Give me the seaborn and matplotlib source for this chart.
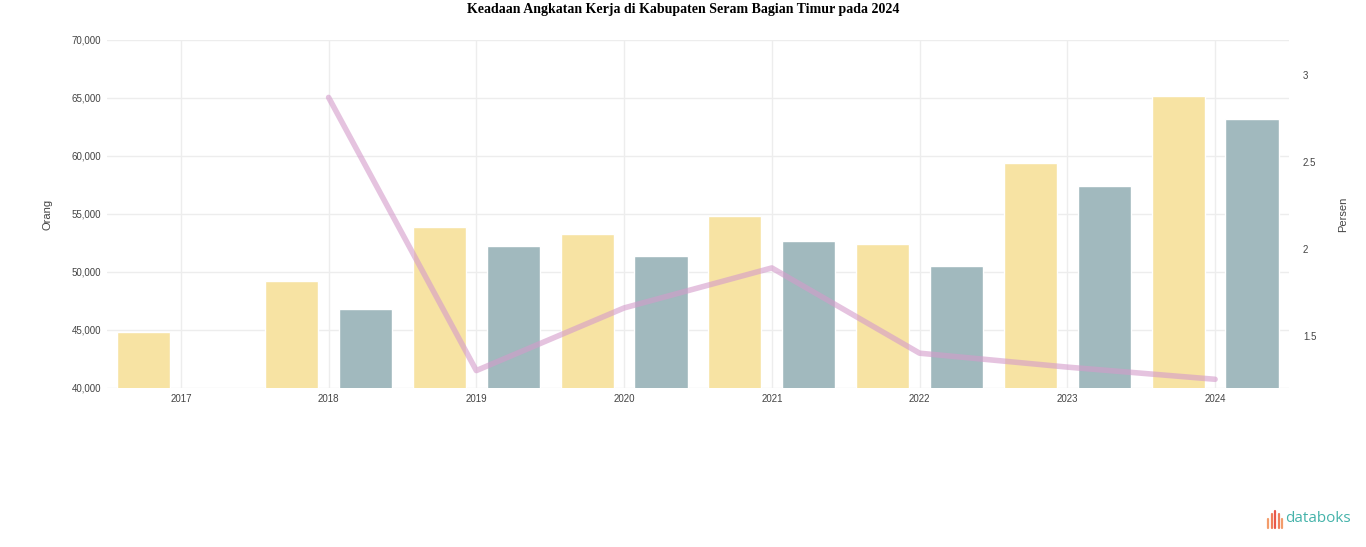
import numpy as np
import pandas as pd
import matplotlib
matplotlib.use("Agg")
import matplotlib.pyplot as plt
import seaborn as sns

# DATA
years = ["2017", "2018", "2019", "2020", "2021", "2022", "2023", "2024"]
angkatan_kerja = [44800, 49200, 53900, 53300, 54800, 52400, 59400, 65200]
bekerja = [np.nan, 46800, 52200, 51400, 52700, 50500, 57400, 63200]
tpt_years = ["2018", "2019", "2020", "2021", "2022", "2023", "2024"]
tpt = [2.87, 1.30, 1.66, 1.89, 1.40, 1.32, 1.25]

left_ticks = [40000, 45000, 50000, 55000, 60000, 65000, 70000]
right_ticks = [1.5, 2.0, 2.5, 3.0]

# STYLE
sns.set_theme(style="whitegrid")
plt.rcParams.update({
    "font.family": ["Liberation Sans", "DejaVu Sans"],
    "axes.spines.top": False,
    "axes.spines.right": False,
    "axes.spines.left": False,
    "axes.spines.bottom": False,
})

YELLOW = "#f7e3a3"
TEAL = "#a1b9be"
LINE = "#d49bcb"
GRID = "#ededed"
TICK = "#444444"

df = pd.DataFrame({
    "tahun": years * 2,
    "nilai": angkatan_kerja + bekerja,
    "seri": ["Angkatan Kerja"] * len(years) + ["Bekerja"] * len(years),
})

line_df = pd.DataFrame({
    "pos": [years.index(y) for y in tpt_years],
    "tpt": tpt,
})

fig = plt.figure(figsize=(13.66, 5.47), dpi=100)
ax = fig.add_axes([0.0783, 0.2907, 0.8653, 0.6362])

sns.barplot(data=df, x="tahun", y="nilai", hue="seri",
            palette=[YELLOW, TEAL], saturation=1, width=1.0, gap=0.28,
            order=years, legend=False, ax=ax, zorder=2)

ax.set_xlim(-0.5, len(years) - 0.5)
ax.set_ylim(left_ticks[0], left_ticks[-1])
ax.set_yticks(left_ticks)
ax.set_yticklabels([f"{v:,}" for v in left_ticks])
ax.grid(True, color=GRID, linewidth=1)
ax.tick_params(axis="both", length=0, labelsize=7, labelcolor=TICK, pad=4)
ax.set_xlabel("")
ax.set_ylabel("Orang", fontsize=8, color=TICK, labelpad=14)

ax2 = ax.twinx()
sns.lineplot(data=line_df, x="pos", y="tpt", color=LINE, linewidth=4,
             alpha=0.6, ax=ax2, zorder=3)
ax2.set_ylim(1.2, 3.2)
ax2.set_yticks(right_ticks)
ax2.set_yticklabels([f"{v:g}" for v in right_ticks])
ax2.grid(False)
for s in ax2.spines.values():
    s.set_visible(False)
ax2.tick_params(axis="y", length=0, labelsize=7, labelcolor=TICK, pad=10)
ax2.set_xlabel("")
ax2.set_ylabel("Persen", fontsize=8, color=TICK, labelpad=16)

fig.text(0.5, 0.995, "Keadaan Angkatan Kerja di Kabupaten Seram Bagian Timur pada 2024",
         ha="center", va="top", fontsize=10, fontweight="bold",
         family=["Liberation Serif", "DejaVu Serif"], color="black")

# databoks mark
fig.text(0.9885, 0.038, "databoks", ha="right", va="bottom", fontsize=11,
         color="#45b3aa", family=["Open Sans", "DejaVu Sans"])
icon_x = [0.9285, 0.9310, 0.9335, 0.9360, 0.9385]
icon_h = [0.018, 0.026, 0.032, 0.026, 0.018]
icon_c = ["#f39c6b", "#ef7d5a", "#e8584b", "#ef7d5a", "#f39c6b"]
for x, h, c in zip(icon_x, icon_h, icon_c):
    fig.add_artist(plt.Line2D([x, x], [0.034, 0.034 + h], color=c,
                              linewidth=1.6, transform=fig.transFigure))

fig.savefig("out.png", dpi=100)
